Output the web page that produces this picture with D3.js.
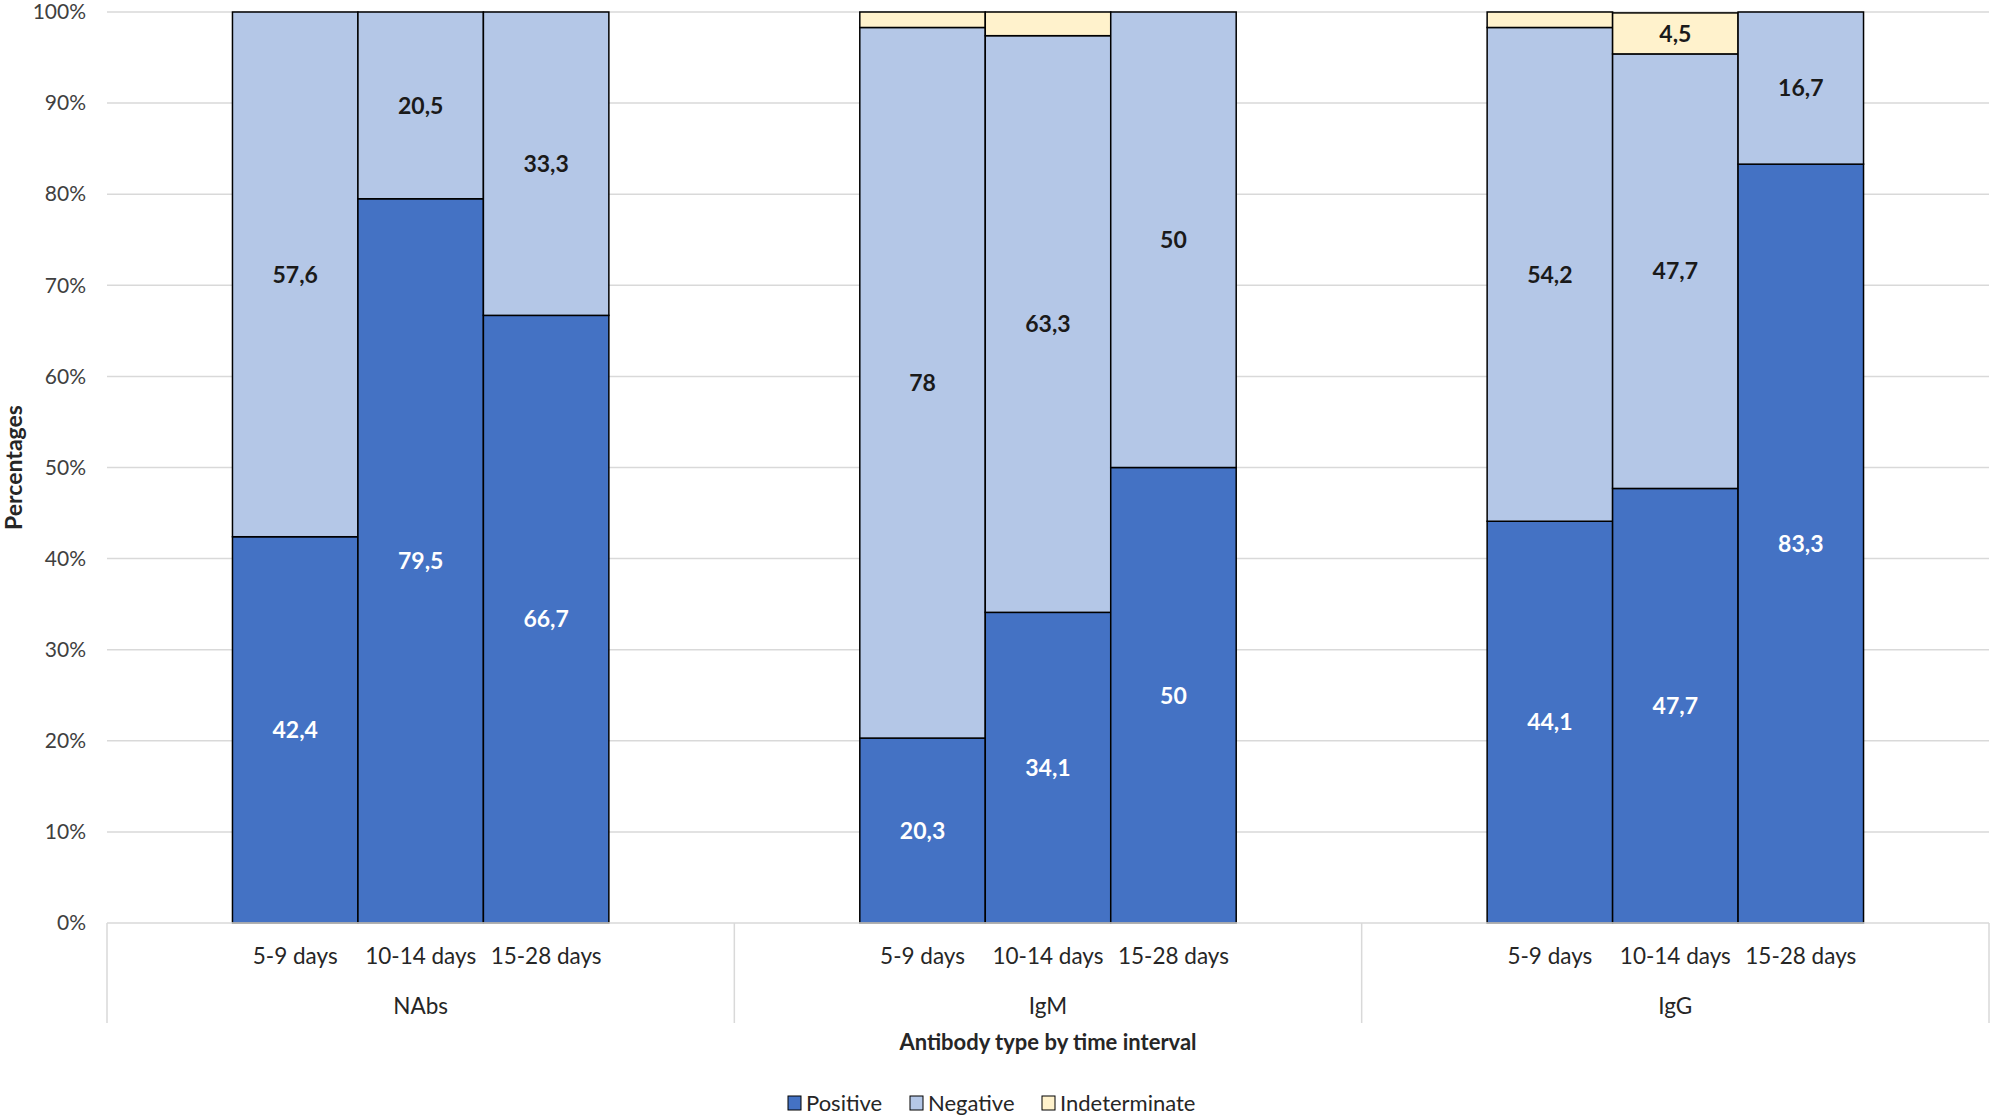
<!DOCTYPE html>
<html>
<head>
<meta charset="utf-8">
<script src="https://cdn.jsdelivr.net/npm/d3@7"></script>
<style>
  body { margin: 0; background: #fff; }
  text { font-family: Lato, "Open Sans", sans-serif; }
</style>
</head>
<body>
<div id="chart"></div>
<script>
var groups = ["NAbs", "IgM", "IgG"];
var intervals = ["5-9 days", "10-14 days", "15-28 days"];
var seriesNames = ["Positive", "Negative", "Indeterminate"];
var positive = [[42.4, 79.5, 66.7], [20.3, 34.1, 50], [44.1, 47.7, 83.3]];
var negative = [[57.6, 20.5, 33.3], [78, 63.3, 50], [54.2, 47.7, 16.7]];
var indeterminate = [[0, 0, 0], [1.7, 2.6, 0], [1.7, 4.5, 0]];
var yTicks = [0, 10, 20, 30, 40, 50, 60, 70, 80, 90, 100];

var colors = ["#4472c4", "#b4c7e7", "#fff2cc"];
var labelColors = ["#ffffff", "#1a1a1a", "#1a1a1a"];

var W = 1993, H = 1118,
	plotLeft = 107, plotRight = 1989,
	plotTop = 12, plotBottom = 923;

var svg = d3.select("#chart")
	.append("svg")
	.attr("width", W)
	.attr("height", H)

var x0 = d3.scaleBand().domain(groups).range([plotLeft, plotRight]).padding(0);
var x1 = d3.scaleBand().domain(intervals).range([0, x0.bandwidth()])
	.paddingInner(0).paddingOuter(1);
var y = d3.scaleLinear().domain([0, 100]).range([plotBottom, plotTop]);

// gridlines
svg.append("g")
	.selectAll("line")
	.data(yTicks.slice(1))
	.enter().append("line")
	.attr("x1", plotLeft).attr("x2", plotRight)
	.attr("y1", function(d) { return y(d); })
	.attr("y2", function(d) { return y(d); })
	.style("stroke", "#d9d9d9")
	.style("stroke-width", 1.5)

// y axis labels
var yAxis = svg.append("g")
	.attr("transform", "translate(" + plotLeft + ",0)")
	.call(d3.axisLeft(y).tickValues(yTicks).tickSize(0).tickPadding(21)
		.tickFormat(function(d) { return d + "%"; }))
yAxis.select(".domain").remove()
yAxis.selectAll("text")
	.style("font-size", "21px")
	.style("fill", "#404040")
	.style("font-family", "Lato, sans-serif")

// stacked segments
var rows = [];
groups.forEach(function(g, gi) {
	intervals.forEach(function(c, ci) {
		var vals = [positive[gi][ci], negative[gi][ci], indeterminate[gi][ci]];
		var acc = 0;
		vals.forEach(function(v, si) {
			rows.push({ group: g, cat: c, s: si, y0: acc, y1: acc + v, v: v });
			acc += v;
		});
	});
});

var segs = svg.append("g")
	.selectAll("g")
	.data(rows.filter(function(d) { return d.v > 0; }))
	.enter().append("g")
	.attr("transform", function(d) { return "translate(" + (x0(d.group) + x1(d.cat)) + ",0)"; })

segs.append("rect")
	.attr("x", 0)
	.attr("y", function(d) { return y(d.y1); })
	.attr("width", x1.bandwidth())
	.attr("height", function(d) { return y(d.y0) - y(d.y1); })
	.style("fill", function(d) { return colors[d.s]; })
	.style("stroke", "#000")
	.style("stroke-width", 1.5)

segs.filter(function(d) { return d.v >= 4; })
	.append("text")
	.attr("x", x1.bandwidth() / 2)
	.attr("y", function(d) { return y((d.y0 + d.y1) / 2); })
	.attr("dy", "0.36em")
	.style("text-anchor", "middle")
	.style("font-size", "23px")
	.style("font-weight", "bold")
	.style("fill", function(d) { return labelColors[d.s]; })
	.text(function(d) { return String(d.v).replace(".", ","); })

// x axis line and group separators
svg.append("line")
	.attr("x1", plotLeft).attr("x2", plotRight)
	.attr("y1", plotBottom).attr("y2", plotBottom)
	.style("stroke", "#d9d9d9")
	.style("stroke-width", 1.5)

var seps = groups.map(function(g) { return x0(g); }).concat([plotRight]);
svg.append("g")
	.selectAll("line")
	.data(seps)
	.enter().append("line")
	.attr("x1", function(d) { return d; })
	.attr("x2", function(d) { return d; })
	.attr("y1", plotBottom)
	.attr("y2", 1023)
	.style("stroke", "#d9d9d9")
	.style("stroke-width", 1.5)

// category labels
groups.forEach(function(g) {
	svg.append("g")
		.selectAll("text")
		.data(intervals)
		.enter().append("text")
		.attr("x", function(d) { return x0(g) + x1(d) + x1.bandwidth() / 2; })
		.attr("y", 956)
		.attr("dy", "0.36em")
		.style("text-anchor", "middle")
		.style("font-size", "22.5px")
		.style("fill", "#262626")
		.text(function(d) { return d; })
});

svg.append("g")
	.selectAll("text")
	.data(groups)
	.enter().append("text")
	.attr("x", function(d) { return x0(d) + x0.bandwidth() / 2; })
	.attr("y", 1006)
	.attr("dy", "0.36em")
	.style("text-anchor", "middle")
	.style("font-size", "22.5px")
	.style("fill", "#262626")
	.text(function(d) { return d; })

// axis titles
svg.append("text")
	.attr("x", (plotLeft + plotRight) / 2)
	.attr("y", 1042)
	.attr("dy", "0.36em")
	.style("text-anchor", "middle")
	.style("font-size", "22px")
	.style("font-weight", "bold")
	.style("fill", "#262626")
	.text("Antibody type by time interval")

svg.append("text")
	.attr("transform", "translate(14," + y(50) + ") rotate(-90)")
	.attr("dy", "0.36em")
	.style("text-anchor", "middle")
	.style("font-size", "23px")
	.style("font-weight", "bold")
	.style("fill", "#262626")
	.text("Percentages")

// legend
var legendX = [788, 910, 1042];
var legend = svg.append("g")
	.selectAll("g")
	.data(seriesNames)
	.enter().append("g")
	.attr("transform", function(d, i) { return "translate(" + legendX[i] + ",1103)"; })

legend.append("rect")
	.attr("x", 0).attr("y", -7)
	.attr("width", 13).attr("height", 14)
	.style("fill", function(d, i) { return colors[i]; })
	.style("stroke", "#000")
	.style("stroke-width", 1)

legend.append("text")
	.attr("x", 18)
	.attr("dy", "0.36em")
	.style("font-size", "22px")
	.style("fill", "#262626")
	.text(function(d) { return d; })
</script>
</body>
</html>
